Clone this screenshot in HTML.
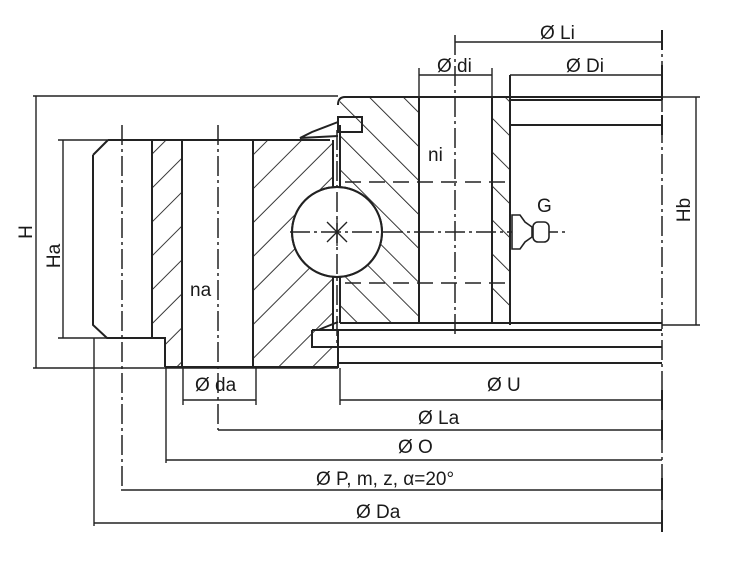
<!DOCTYPE html>
<html><head><meta charset="utf-8"><style>
html,body{margin:0;padding:0;background:#fff;width:743px;height:568px;overflow:hidden}
svg{display:block}
text{font-family:"Liberation Sans",sans-serif;font-size:19px;fill:#1a1a1a}
</style></head><body>
<svg width="743" height="568" viewBox="0 0 743 568" xmlns="http://www.w3.org/2000/svg">
<defs>
<pattern id="hf" patternUnits="userSpaceOnUse" width="24" height="24" patternTransform="rotate(45)">
<line x1="0" y1="0" x2="0" y2="24" stroke="#222" stroke-width="1.8"/></pattern>
<pattern id="hb" patternUnits="userSpaceOnUse" width="24" height="24" patternTransform="rotate(-45)">
<line x1="0" y1="0" x2="0" y2="24" stroke="#222" stroke-width="1.8"/></pattern>
</defs>
<g stroke="#222" fill="none" stroke-width="2">
<rect x="152" y="140" width="30" height="228" fill="url(#hf)" stroke="none"/>
<rect x="253" y="140" width="80" height="228" fill="url(#hf)" stroke="none"/>
<rect x="340" y="97" width="79" height="226" fill="url(#hb)" stroke="none"/>
<rect x="492" y="97" width="18" height="226" fill="url(#hb)" stroke="none"/>
<rect x="152" y="338" width="13" height="30" fill="#fff" stroke="none"/>
<rect x="333" y="140" width="7" height="190" fill="#fff" stroke="none"/>
<circle cx="337" cy="232" r="45" fill="#fff"/>
<path d="M108,140 L330,140 M93,155 L108,140 M93,155 L93,325 L107,338 L165,338 L165,367 M165,367 L338,367"/>
<line x1="152" y1="140" x2="152" y2="338"/>
<line x1="182" y1="140" x2="182" y2="367"/>
<line x1="253" y1="140" x2="253" y2="367"/>
<line x1="333" y1="140" x2="333" y2="187"/>
<line x1="340" y1="125" x2="340" y2="187"/>
<line x1="333" y1="277" x2="333" y2="330"/>
<line x1="340" y1="277" x2="340" y2="323"/>
<path d="M338,105 Q338,97 345,97 L662,97"/>
<line x1="510" y1="100" x2="662" y2="100"/>
<line x1="510" y1="125" x2="662" y2="125"/>
<line x1="510" y1="75" x2="510" y2="325"/>
<line x1="419" y1="97" x2="419" y2="323"/>
<line x1="492" y1="97" x2="492" y2="323"/>
<line x1="340" y1="323" x2="662" y2="323"/>
<line x1="340" y1="330" x2="662" y2="330"/>
<line x1="338" y1="347" x2="662" y2="347"/>
<line x1="338" y1="363" x2="662" y2="363"/>
<line x1="338" y1="330" x2="338" y2="368"/>
<path d="M338,117 L362,117 L362,132 L338,132 Z M338,122 L312,132 L300,138 L338,136"/>
<path d="M312,330 L375,330 M312,330 L312,347 L338,347 M318,330 L338,322"/>
<circle cx="337" cy="232" r="45"/>
</g>
<g stroke="#222" stroke-width="1.3">
<line x1="327" y1="222" x2="347" y2="242"/><line x1="347" y1="222" x2="327" y2="242"/>
<line x1="337" y1="218" x2="337" y2="246"/>
</g>
<g stroke="#222" stroke-width="1.5" stroke-dasharray="20,4,3,4" fill="none">
<line x1="122" y1="125" x2="122" y2="490"/>
<line x1="218" y1="125" x2="218" y2="430"/>
<line x1="455" y1="35" x2="455" y2="335"/>
<line x1="337" y1="130" x2="337" y2="345"/>
<line x1="290" y1="232" x2="565" y2="232"/>
<line x1="662" y1="30" x2="662" y2="530"/>
</g>
<g stroke="#222" stroke-width="1.5" stroke-dasharray="16,8">
<line x1="345" y1="182" x2="510" y2="182"/>
<line x1="345" y1="283" x2="510" y2="283"/>
</g>
<g stroke="#222" stroke-width="1.6" fill="#fff">
<path d="M512,215 L520,215 L525,222 L532,227 L532,237 L525,242 L520,249 L512,249 Z"/>
<rect x="533" y="222" width="16" height="20" rx="5"/>
</g>
<g stroke="#222" stroke-width="1.4" fill="none">
<line x1="33" y1="96" x2="338" y2="96"/>
<line x1="33" y1="368" x2="338" y2="368"/>
<line x1="36" y1="96" x2="36" y2="368"/>
<line x1="58" y1="140" x2="108" y2="140"/>
<line x1="58" y1="338" x2="108" y2="338"/>
<line x1="63" y1="140" x2="63" y2="338"/>
<line x1="662" y1="97" x2="700" y2="97"/>
<line x1="662" y1="325" x2="700" y2="325"/>
<line x1="696" y1="97" x2="696" y2="325"/>
<line x1="455" y1="42" x2="662" y2="42"/>
<line x1="419" y1="75" x2="492" y2="75"/>
<line x1="419" y1="68" x2="419" y2="97"/>
<line x1="492" y1="68" x2="492" y2="97"/>
<line x1="510" y1="75" x2="662" y2="75"/>
<line x1="183" y1="368" x2="183" y2="405"/>
<line x1="256" y1="368" x2="256" y2="405"/>
<line x1="183" y1="400" x2="256" y2="400"/>
<line x1="340" y1="368" x2="340" y2="405"/>
<line x1="340" y1="400" x2="662" y2="400"/>
<line x1="218" y1="430" x2="662" y2="430"/>
<line x1="166" y1="367" x2="166" y2="463"/>
<line x1="166" y1="460" x2="662" y2="460"/>
<line x1="121" y1="490" x2="662" y2="490"/>
<line x1="94" y1="338" x2="94" y2="526"/>
<line x1="94" y1="523" x2="662" y2="523"/>
</g>
<g stroke="#222" stroke-width="2">
<line x1="662" y1="30" x2="662" y2="50"/><line x1="662" y1="65" x2="662" y2="100"/>
<line x1="662" y1="115" x2="662" y2="135"/><line x1="662" y1="390" x2="662" y2="410"/>
<line x1="662" y1="420" x2="662" y2="440"/><line x1="662" y1="478" x2="662" y2="500"/>
<line x1="662" y1="510" x2="662" y2="532"/>
</g>
<text x="540" y="39">Ø Li</text>
<text x="437" y="72">Ø di</text>
<text x="566" y="72">Ø Di</text>
<text x="428" y="161">ni</text>
<text x="537" y="212">G</text>
<text x="190" y="296">na</text>
<text x="195" y="391">Ø da</text>
<text x="487" y="391">Ø U</text>
<text x="418" y="424">Ø La</text>
<text x="398" y="453">Ø O</text>
<text x="316" y="485">Ø P, m, z, α=20°</text>
<text x="356" y="518">Ø Da</text>
<text transform="translate(32,232) rotate(-90)" text-anchor="middle">H</text>
<text transform="translate(60,256) rotate(-90)" text-anchor="middle">Ha</text>
<text transform="translate(690,210) rotate(-90)" text-anchor="middle">Hb</text>
</svg>
</body></html>
